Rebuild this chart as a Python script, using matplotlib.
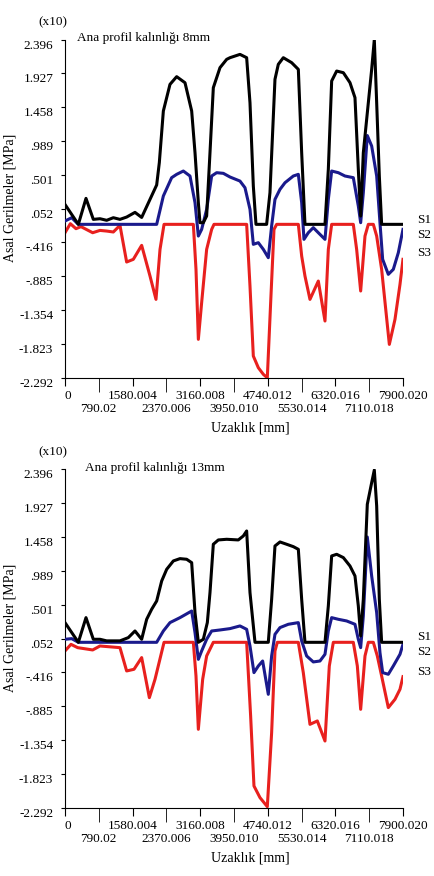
import matplotlib
matplotlib.use('Agg')
import matplotlib.pyplot as plt
import numpy as np

plt.rcParams['font.family'] = ['Liberation Serif', 'DejaVu Serif']

# --- Ana profil kalinligi 8mm ---
x_s1_8 = [0, 312, 491, 662, 818, 974, 1130, 1285, 1441, 1636, 1792, 1987, 2143, 2205, 2299,
          2454, 2610, 2805, 2961, 3039, 3117, 3155, 3233, 3311, 3389, 3467, 3623, 3779, 3857,
          4090, 4246, 4324, 4402, 4464, 4713, 4791, 4908, 4986, 5103, 5298, 5454, 5532, 5609,
          6077, 6155, 6233, 6350, 6506, 6661, 6778, 6856, 6911, 6973, 7090, 7168, 7230, 7285,
          7347, 7401, 7900]
s1_8 = [0.11, -0.166, 0.194, -0.097, -0.088, -0.11, -0.074, -0.097, -0.065, 0.0, -0.07, 0.18,
        0.38, 0.69, 1.405, 1.774, 1.881, 1.797, 1.405, 0.827, 0.134, -0.143, -0.143, -0.05,
        0.827, 1.728, 2.006, 2.121, 2.144, 2.19, 2.144, 1.52, 0.365, -0.166, -0.166, 0.273,
        1.844, 2.052, 2.144, 2.075, 1.982, 0.827, -0.166, -0.166, 0.596, 1.821, 1.959, 1.936,
        1.798, 1.59, 0.596, -0.051, 0.827, 1.52, 1.982, 2.396, 1.52, 0.504, -0.166, -0.166]

x_s2_8 = [0, 156, 312, 2143, 2299, 2493, 2610, 2766, 2922, 3039, 3117, 3194, 3311, 3428, 3545,
          3701, 3857, 4090, 4207, 4324, 4402, 4519, 4636, 4752, 4830, 4908, 5025, 5142, 5337,
          5454, 5532, 5586, 5687, 5804, 5921, 6077, 6155, 6233, 6389, 6544, 6739, 6856, 6911,
          6973, 7066, 7168, 7285, 7362, 7425, 7557, 7674, 7791, 7900]
s2_8 = [-0.12, -0.074, -0.166, -0.166, 0.227, 0.481, 0.527, 0.573, 0.504, 0.134, -0.328, -0.236,
        0.042, 0.504, 0.55, 0.541, 0.49, 0.434, 0.342, 0.042, -0.443, -0.42, -0.513, -0.628,
        -0.189, 0.18, 0.319, 0.411, 0.504, 0.527, 0.134, -0.374, -0.282, -0.212, -0.282, -0.374,
        0.18, 0.573, 0.55, 0.504, 0.481, 0.088, -0.143, 0.273, 1.065, 0.92, 0.504, -0.143,
        -0.651, -0.859, -0.79, -0.559, -0.236]

x_s3_8 = [0, 125, 257, 374, 647, 818, 974, 1130, 1285, 1441, 1597, 1792, 1987, 2127, 2221, 2315,
          3000, 3062, 3117, 3194, 3311, 3428, 3483, 4246, 4324, 4402, 4519, 4636, 4729, 4807,
          4885, 4947, 5454, 5532, 5609, 5726, 5921, 6077, 6155, 6233, 6739, 6817, 6911, 7012,
          7090, 7207, 7285, 7401, 7581, 7713, 7830, 7900]
s3_8 = [-0.282, -0.157, -0.226, -0.198, -0.282, -0.25, -0.259, -0.272, -0.18, -0.688, -0.651,
        -0.457, -0.882, -1.206, -0.513, -0.166, -0.166, -0.79, -1.76, -1.252, -0.513, -0.236,
        -0.166, -0.166, -1.021, -1.991, -2.153, -2.245, -2.292, -1.252, -0.236, -0.166, -0.166,
        -0.605, -0.882, -1.206, -0.952, -1.506, -0.513, -0.166, -0.166, -0.513, -1.09, -0.328,
        -0.166, -0.166, -0.328, -0.79, -1.83, -1.483, -0.998, -0.651]

# --- Ana profil kalinligi 13mm ---
x_s1_13 = [0, 312, 491, 662, 818, 974, 1285, 1480, 1636, 1792, 1909, 2026, 2143, 2260, 2377,
           2533, 2688, 2844, 2961, 3039, 3117, 3233, 3327, 3389, 3467, 3584, 3779, 4051, 4168,
           4246, 4324, 4441, 4752, 4830, 4908, 5025, 5181, 5337, 5454, 5532, 5609, 6077, 6155,
           6233, 6350, 6506, 6661, 6778, 6856, 6911, 6973, 7066, 7168, 7230, 7285, 7347, 7401,
           7900]
s1_13 = [0.273, 0.0, 0.342, 0.042, 0.042, 0.02, 0.02, 0.065, 0.157, 0.042, 0.319, 0.458, 0.573,
         0.85, 1.012, 1.128, 1.16, 1.151, 1.104, 0.411, 0.0, 0.042, 0.273, 0.689, 1.359, 1.419,
         1.428, 1.419, 1.474, 1.543, 0.689, 0.0, 0.0, 0.596, 1.335, 1.391, 1.359, 1.326, 1.289,
         0.596, 0.0, 0.0, 0.504, 1.197, 1.22, 1.174, 1.058, 0.92, 0.504, 0.088, 0.596, 1.913,
         2.213, 2.389, 1.89, 0.596, 0.0, 0.0]

x_s2_13 = [0, 156, 312, 2143, 2299, 2454, 2688, 2961, 3039, 3117, 3194, 3311, 3428, 3623, 3857,
           4090, 4246, 4324, 4417, 4519, 4620, 4752, 4830, 4908, 5025, 5220, 5454, 5532, 5648,
           5804, 5960, 6077, 6155, 6233, 6389, 6583, 6778, 6856, 6911, 6973, 7066, 7168, 7285,
           7362, 7425, 7557, 7674, 7830, 7900]
s2_13 = [0.042, 0.051, 0.0, 0.0, 0.157, 0.273, 0.342, 0.434, 0.134, -0.236, -0.12, 0.042, 0.157,
         0.171, 0.19, 0.227, 0.18, -0.051, -0.42, -0.328, -0.259, -0.721, -0.189, 0.111, 0.204,
         0.25, 0.273, 0.019, -0.189, -0.272, -0.259, -0.166, 0.157, 0.342, 0.319, 0.296, 0.25,
         0.042, -0.074, 0.365, 1.46, 0.92, 0.411, -0.143, -0.42, -0.443, -0.328, -0.166, -0.028]

x_s3_13 = [0, 140, 296, 647, 818, 1285, 1441, 1613, 1792, 1972, 2104, 2315, 3000, 3062, 3117,
           3218, 3311, 3467, 4246, 4339, 4417, 4558, 4729, 4830, 4908, 4963, 5454, 5570, 5726,
           5898, 6077, 6178, 6272, 6739, 6833, 6911, 7012, 7090, 7207, 7300, 7401, 7557, 7713,
           7830, 7900]
s3_13 = [-0.12, -0.028, -0.074, -0.106, -0.051, -0.074, -0.397, -0.374, -0.212, -0.767, -0.513,
         0.0, 0.0, -0.467, -1.206, -0.513, -0.189, 0.0, 0.0, -1.021, -1.991, -2.153, -2.278,
         -1.252, -0.12, 0.0, 0.0, -0.42, -1.137, -1.09, -1.368, -0.328, 0.0, 0.0, -0.328, -0.929,
         -0.189, 0.0, 0.0, -0.189, -0.467, -0.905, -0.79, -0.651, -0.476]

ytick_labels = ['2.396', '1.927', '1.458', '.989', '.501', '.052', '-.416', '-.885',
                '-1.354', '-1.823', '-2.292']
xtick_row1 = ['0', '1580.004', '3160.008', '4740.012', '6320.016', '7900.020']
xtick_row2 = ['790.02', '2370.006', '3950.010', '5530.014', '7110.018']

black = '#000000'
blue = '#1a1a8c'
red = '#e8201e'


def drawPanel(ax, title, title_x, leg_y, s1x, s1, s2x, s2, s3x, s3):
    ax.plot(s3x, s3, color=red, lw=2.2, zorder=2)
    ax.plot(s2x, s2, color=blue, lw=2.2, zorder=3)
    ax.plot(s1x, s1, color=black, lw=2.2, zorder=4)

    ax.set_xlim(0, 7900.02)
    ax.set_ylim(-2.292, 2.396)
    ax.spines['top'].set_visible(False)
    ax.spines['right'].set_visible(False)

    # y ekseni
    ax.set_yticks(np.linspace(2.396, -2.292, len(ytick_labels)))
    ax.set_yticklabels(ytick_labels)
    for lab in ax.get_yticklabels():
        lab.set_va('top')
    ax.tick_params(axis='y', length=3, pad=5.5, labelsize=9.5)

    # x ekseni, iki sira etiket
    ax.set_xticks([float(v) for v in xtick_row1])
    ax.set_xticklabels(xtick_row1)
    ax.set_xticks([float(v) for v in xtick_row2], minor=True)
    ax.set_xticklabels(xtick_row2, minor=True)
    ax.tick_params(axis='x', which='major', length=6, pad=3, labelsize=9.5)
    ax.tick_params(axis='x', which='minor', length=10, pad=8, labelsize=9.5)
    ax.get_xticklabels()[0].set_ha('left')

    ax.text(title_x, 1.004, title, transform=ax.transAxes, fontsize=9.5, va='center', ha='left')
    ax.text(-0.036, 1.05, '(x10)', transform=ax.transAxes, fontsize=9.5, va='center', ha='center')
    ax.text(-0.163, 0.533, 'Asal Gerilmeler [MPa]', transform=ax.transAxes, fontsize=10,
            rotation=90, va='center', ha='center')
    ax.text(0.547, -0.148, 'Uzaklık [mm]', transform=ax.transAxes, fontsize=10,
            va='center', ha='center')
    for name, yy in zip(['S1', 'S2', 'S3'], leg_y):
        ax.text(1.041, yy, name, transform=ax.transAxes, fontsize=9.5, va='center', ha='left')


fig = plt.figure(figsize=(4.35, 8.76), dpi=100)
ax1 = fig.add_axes([0.1494, 0.5688, 0.7770, 0.3861])
ax2 = fig.add_axes([0.1494, 0.0780, 0.7770, 0.3861])

drawPanel(ax1, 'Ana profil kalınlığı 8mm', 0.036, [0.467, 0.423, 0.370],
          x_s1_8, s1_8, x_s2_8, s2_8, x_s3_8, s3_8)
drawPanel(ax2, 'Ana profil kalınlığı 13mm', 0.059, [0.506, 0.459, 0.402],
          x_s1_13, s1_13, x_s2_13, s2_13, x_s3_13, s3_13)

fig.savefig('out.png', dpi=100)
